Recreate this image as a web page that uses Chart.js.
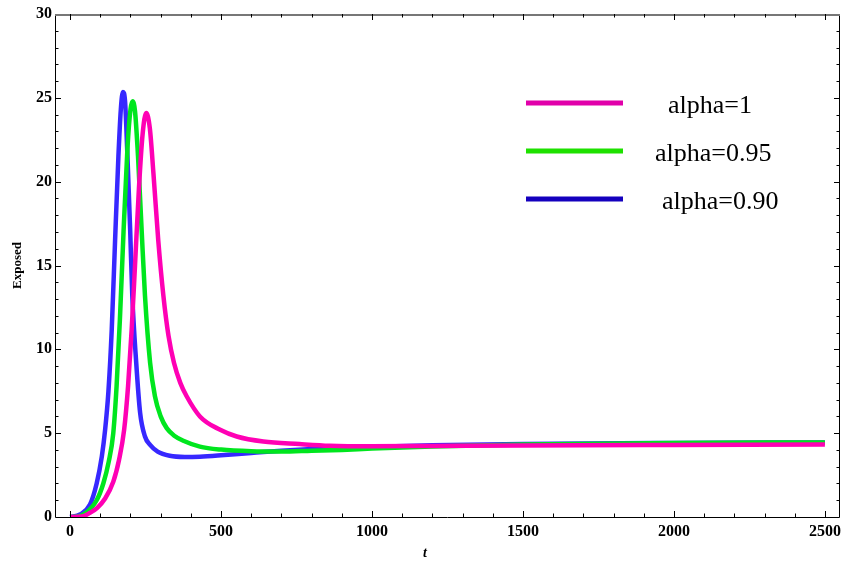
<!DOCTYPE html>
<html>
<head>
    <title>Exposed</title>
    <script src="https://cdn.jsdelivr.net/npm/chart.js"></script>
    <style>
        body { margin: 0; background: #fff; }
    </style>
</head>
<body>
    <canvas id="exposedChart" width="844" height="568"></canvas>

    <script>
        // values
        const seriesLabels = ['alpha=1', 'alpha=0.95', 'alpha=0.90'];

        const tAlpha1 = [0, 40, 66, 90, 116, 143, 162, 179, 192, 204, 215, 228, 240, 252, 264, 276, 292, 309, 326, 344, 365, 386, 430, 497, 552, 640, 760, 860, 1000, 1200, 1500, 2000, 2500];
        const eAlpha1 = [0, 0.03, 0.25, 0.55, 1.1, 2.1, 3.4, 5.2, 7.8, 11.2, 15, 19.6, 22.8, 24.1, 23.2, 20.5, 16.5, 13.2, 10.8, 9.2, 8.0, 7.2, 6.0, 5.2, 4.8, 4.5, 4.35, 4.25, 4.22, 4.24, 4.27, 4.3, 4.32];

        const tAlpha095 = [0, 25, 50, 88, 110, 128, 143, 154, 165, 177, 190, 200, 207, 215, 225, 237, 248, 265, 281, 300, 320, 345, 375, 430, 500, 600, 700, 800, 900, 1000, 1200, 1500, 2000, 2500];
        const eAlpha095 = [0, 0.03, 0.22, 1, 2, 3.3, 5, 7.8, 11.8, 17, 22, 24.3, 24.8, 24.2, 21.5, 17.1, 13.2, 9.2, 7.2, 6.0, 5.3, 4.85, 4.55, 4.2, 4.02, 3.92, 3.9, 3.95, 4.0, 4.08, 4.2, 4.32, 4.42, 4.45];

        const tAlpha090 = [0, 33, 66, 88, 105, 116, 127, 138, 149, 160, 168, 175, 182, 190, 199, 206, 219, 232, 248, 265, 290, 330, 380, 430, 500, 600, 700, 800, 900, 1000, 1200, 1500, 2000, 2500];
        const eAlpha090 = [0, 0.15, 0.75, 2, 3.6, 5.2, 7.5, 11.2, 16.5, 21.5, 24.3, 25.35, 24.8, 21.5, 17.1, 13.2, 9.2, 6.2, 4.8, 4.3, 3.9, 3.65, 3.58, 3.6, 3.68, 3.82, 3.95, 4.05, 4.12, 4.18, 4.28, 4.36, 4.42, 4.45];

        const xTicks = [0, 500, 1000, 1500, 2000, 2500];
        const yTicks = [0, 5, 10, 15, 20, 25, 30];

        const lineColors = ['rgb(255, 0, 180)', 'rgb(0, 230, 30)', 'rgb(55, 40, 255)'];
        const legendColors = ['rgb(225, 0, 170)', 'rgb(30, 225, 0)', 'rgb(20, 0, 190)'];

        function toPoints(ts, es) {
            return ts.map((t, i) => ({ x: t, y: es[i] }));
        }

        // Mathematica style frame with inward ticks, plus the legend
        const framePlugin = {
            id: 'frame',
            afterDatasetsDraw(chart) {
                const ctx = chart.ctx;
                const a = chart.chartArea;
                const xs = chart.scales.x;
                const ys = chart.scales.y;
                ctx.save();

                ctx.strokeStyle = '#000';
                ctx.lineWidth = 1;
                ctx.beginPath();
                ctx.moveTo(a.left + 0.5, a.top);
                ctx.lineTo(a.left + 0.5, a.bottom + 0.5);
                ctx.lineTo(a.right - 0.5, a.bottom + 0.5);
                ctx.lineTo(a.right - 0.5, a.top);
                ctx.stroke();
                ctx.strokeStyle = '#777';
                ctx.lineWidth = 2;
                ctx.beginPath();
                ctx.moveTo(a.left, a.top + 1);
                ctx.lineTo(a.right, a.top + 1);
                ctx.stroke();

                ctx.strokeStyle = '#000';
                ctx.lineWidth = 1;
                ctx.beginPath();
                for (let v = 0; v <= 2500; v += 100) {
                    const len = v % 500 === 0 ? 6 : 3.5;
                    const px = Math.round(xs.getPixelForValue(v)) + 0.5;
                    ctx.moveTo(px, a.bottom);
                    ctx.lineTo(px, a.bottom - len);
                    ctx.moveTo(px, a.top);
                    ctx.lineTo(px, a.top + len);
                }
                for (let v = 1; v < 30; v++) {
                    const len = v % 5 === 0 ? 6 : 3.5;
                    const py = Math.round(ys.getPixelForValue(v)) + 0.5;
                    ctx.moveTo(a.left, py);
                    ctx.lineTo(a.left + len, py);
                    ctx.moveTo(a.right, py);
                    ctx.lineTo(a.right - len, py);
                }
                ctx.stroke();

                // axis label t
                ctx.fillStyle = '#000';
                ctx.font = 'italic bold 14px "Liberation Serif"';
                ctx.textAlign = 'center';
                ctx.textBaseline = 'middle';
                ctx.fillText('t', 425, 553);

                // legend
                const rowY = [103, 151, 199];
                const textX = [668, 655, 662];
                ctx.font = '26px "Liberation Serif"';
                ctx.textAlign = 'left';
                ctx.textBaseline = 'alphabetic';
                seriesLabels.forEach((label, i) => {
                    ctx.strokeStyle = legendColors[i];
                    ctx.lineWidth = 5;
                    ctx.beginPath();
                    ctx.moveTo(526, rowY[i]);
                    ctx.lineTo(623, rowY[i]);
                    ctx.stroke();
                    ctx.fillStyle = '#000';
                    ctx.fillText(label, textX[i], rowY[i] + 10);
                });
                ctx.restore();
            }
        };

        const tickFont = { family: 'Liberation Serif', size: 16, weight: 'bold' };

        new Chart(document.getElementById('exposedChart').getContext('2d'), {
            type: 'line',
            data: {
                datasets: [
                    { label: seriesLabels[0], data: toPoints(tAlpha1, eAlpha1), borderColor: lineColors[0] },
                    { label: seriesLabels[1], data: toPoints(tAlpha095, eAlpha095), borderColor: lineColors[1] },
                    { label: seriesLabels[2], data: toPoints(tAlpha090, eAlpha090), borderColor: lineColors[2] }
                ].map(d => Object.assign(d, {
                    borderWidth: 4.5,
                    pointRadius: 0,
                    fill: false,
                    cubicInterpolationMode: 'monotone'
                }))
            },
            options: {
                responsive: false,
                animation: false,
                layout: { padding: { left: 0, top: 14, right: 4, bottom: 0 } },
                plugins: {
                    legend: { display: false },
                    tooltip: { enabled: false }
                },
                scales: {
                    x: {
                        type: 'linear',
                        min: -50,
                        max: 2550,
                        grid: { display: false, drawTicks: false },
                        border: { display: false },
                        ticks: { font: tickFont, color: '#000', padding: 5, maxRotation: 0, autoSkip: false, callback: v => String(v) },
                        afterBuildTicks: s => { s.ticks = xTicks.map(v => ({ value: v })); },
                        afterFit: s => { s.height = 51; s.paddingLeft = 0; s.paddingRight = 0; }
                    },
                    y: {
                        min: 0,
                        max: 30,
                        grid: { display: false, drawTicks: false },
                        border: { display: false },
                        ticks: { font: tickFont, color: '#000', padding: 3, callback: v => String(v) },
                        afterBuildTicks: s => { s.ticks = yTicks.map(v => ({ value: v })); },
                        afterFit: s => { s.width = 55; s.paddingTop = 0; s.paddingBottom = 0; },
                        title: {
                            display: true,
                            text: 'Exposed',
                            color: '#000',
                            font: { family: 'Liberation Serif', size: 13, weight: 'bold' },
                            padding: { top: 10, bottom: 0 }
                        }
                    }
                }
            },
            plugins: [framePlugin]
        });
    </script>
</body>
</html>
